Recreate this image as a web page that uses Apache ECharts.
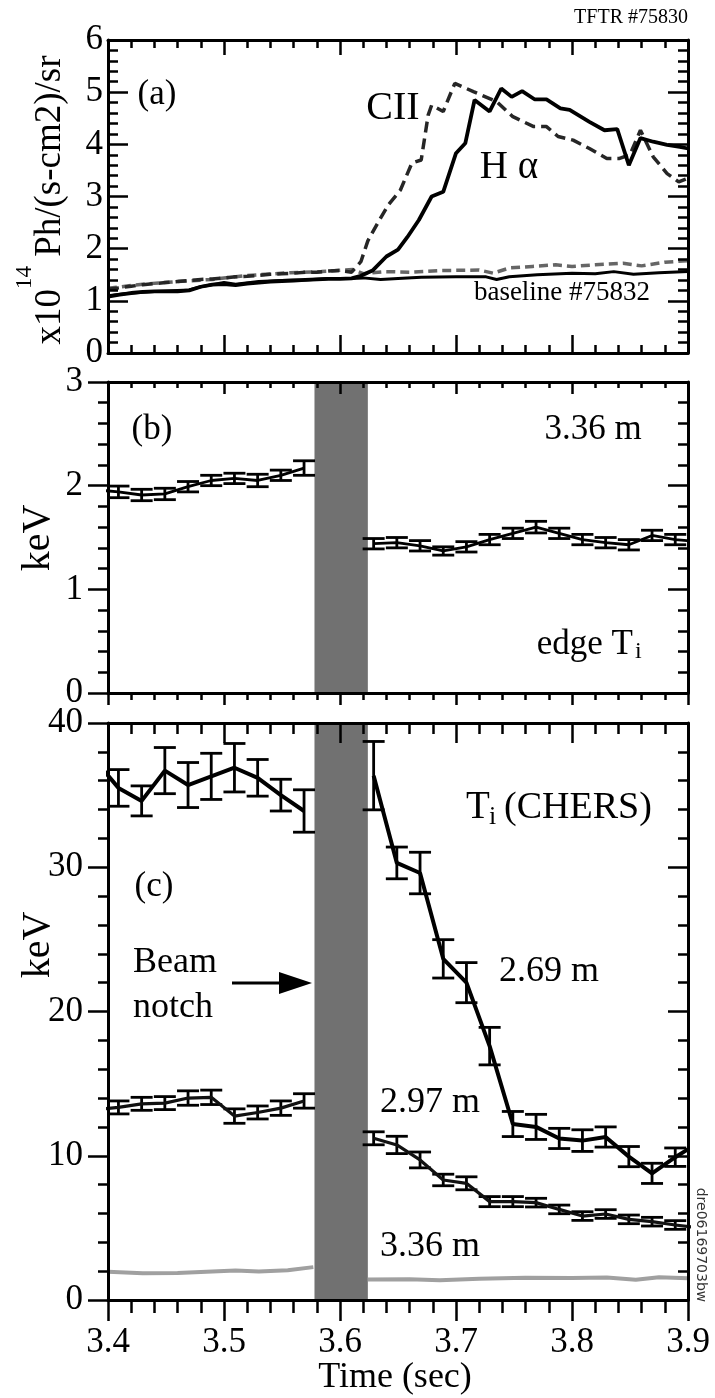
<!DOCTYPE html>
<html>
<head>
<meta charset="utf-8">
<title>TFTR #75830 – beam notch</title>
<script src="https://cdn.jsdelivr.net/npm/echarts@6/dist/echarts.min.js"></script>
<style>
  html, body { margin: 0; padding: 0; background: #fff; }
  #chart { width: 715px; height: 1398px; }
</style>
</head>
<body>
<div id="chart"></div>
<script>
// ---------------- data ----------------
// (a) line emission, x10^14 Ph/(s-cm2)/sr
const haTime = [3.400,3.410,3.420,3.430,3.440,3.450,3.460,3.470,3.480,3.490,3.500,3.510,3.520,3.530,3.540,3.550,3.560,3.570,3.580,3.590,3.600,3.610,3.618,3.628,3.640,3.650,3.658,3.668,3.679,3.689,3.700,3.708,3.716,3.729,3.739,3.748,3.757,3.768,3.778,3.790,3.798,3.815,3.828,3.839,3.849,3.859,3.870,3.882,3.893,3.900];
const haVal  = [1.08,1.12,1.15,1.17,1.18,1.18,1.18,1.20,1.27,1.31,1.32,1.30,1.33,1.35,1.37,1.38,1.39,1.40,1.41,1.42,1.42,1.43,1.48,1.58,1.85,1.98,2.22,2.55,3.00,3.09,3.83,4.02,4.85,4.63,5.07,4.91,5.02,4.86,4.86,4.69,4.66,4.43,4.27,4.29,3.60,4.12,4.05,3.99,3.95,3.92];

const ciiTime = [3.400,3.410,3.420,3.430,3.440,3.450,3.460,3.470,3.480,3.490,3.500,3.510,3.520,3.530,3.540,3.550,3.560,3.570,3.580,3.590,3.600,3.610,3.618,3.624,3.634,3.642,3.652,3.662,3.670,3.676,3.679,3.689,3.699,3.715,3.735,3.749,3.767,3.778,3.788,3.801,3.815,3.830,3.841,3.850,3.859,3.870,3.882,3.892,3.900];
const ciiVal  = [1.22,1.25,1.28,1.31,1.33,1.35,1.37,1.39,1.41,1.42,1.44,1.46,1.47,1.49,1.51,1.52,1.53,1.55,1.55,1.57,1.58,1.55,1.75,2.15,2.55,2.85,3.12,3.64,3.70,4.56,4.75,4.63,5.17,5.01,4.82,4.53,4.34,4.34,4.15,4.08,3.92,3.73,3.73,3.80,4.27,3.76,3.44,3.28,3.35];

// baseline shot #75832
const baseHaTime = [3.400,3.420,3.440,3.460,3.470,3.480,3.500,3.510,3.530,3.550,3.570,3.590,3.610,3.620,3.635,3.650,3.670,3.700,3.726,3.735,3.746,3.770,3.800,3.820,3.836,3.853,3.875,3.900];
const baseHaVal  = [1.10,1.15,1.18,1.20,1.21,1.27,1.35,1.32,1.37,1.39,1.40,1.43,1.43,1.44,1.41,1.43,1.45,1.46,1.46,1.41,1.46,1.50,1.53,1.52,1.56,1.51,1.54,1.56];
const baseCiiTime = [3.400,3.430,3.460,3.490,3.517,3.557,3.584,3.611,3.620,3.638,3.660,3.685,3.720,3.732,3.746,3.766,3.786,3.800,3.820,3.844,3.860,3.880,3.900];
const baseCiiVal  = [1.24,1.32,1.37,1.41,1.48,1.54,1.56,1.60,1.52,1.56,1.55,1.58,1.59,1.53,1.63,1.66,1.69,1.66,1.69,1.72,1.67,1.74,1.77];

// (b) edge Ti at 3.36 m, keV (null error = line vertex only)
const edgePreTime  = [3.389,3.409,3.429,3.449,3.469,3.489,3.509,3.529,3.549,3.569];
const edgePreVal   = [1.96,1.94,1.91,1.92,1.99,2.05,2.07,2.05,2.10,2.17];
const edgePreErr   = [null,0.056,0.055,0.055,0.05,0.05,0.05,0.06,0.05,0.07];
const edgePostTime = [3.629,3.649,3.669,3.689,3.709,3.729,3.749,3.769,3.789,3.809,3.829,3.849,3.869,3.889,3.909];
const edgePostVal  = [1.44,1.45,1.42,1.37,1.41,1.48,1.54,1.60,1.54,1.48,1.45,1.43,1.52,1.48,1.46];
const edgePostErr  = [0.05,0.05,0.05,0.04,0.05,0.05,0.05,0.056,0.05,0.05,0.05,0.05,0.05,0.05,null];

// (c) Ti (CHERS), keV
const r269PreTime  = [3.389,3.409,3.429,3.449,3.469,3.489,3.509,3.529,3.549,3.569];
const r269PreVal   = [37.4,35.5,34.6,36.7,35.7,36.3,36.9,36.2,35.0,33.9];
const r269PreErr   = [null,1.27,1.04,1.6,1.56,1.6,1.68,1.27,1.1,1.47];
const r269PostTime = [3.629,3.649,3.669,3.689,3.709,3.729,3.749,3.769,3.789,3.809,3.829,3.849,3.869,3.889,3.909];
const r269PostVal  = [36.35,30.3,29.6,23.65,22.0,17.6,12.2,12.0,11.2,11.05,11.3,9.94,8.78,9.9,10.9];
const r269PostErr  = [2.37,1.1,1.44,1.33,1.39,1.3,0.87,0.87,0.7,0.75,0.7,0.7,0.7,0.64,null];

const r297PreTime  = [3.389,3.409,3.429,3.449,3.469,3.489,3.509,3.529,3.549,3.569];
const r297PreVal   = [13.2,13.35,13.6,13.65,14.0,14.05,12.75,13.0,13.3,13.8];
const r297PreErr   = [null,0.45,0.45,0.45,0.5,0.5,0.5,0.45,0.5,0.5];
const r297PostTime = [3.629,3.649,3.669,3.689,3.709,3.729,3.749,3.769,3.789,3.809,3.829,3.849,3.869,3.889,3.909];
const r297PostVal  = [11.21,10.75,9.71,8.32,8.09,6.82,6.82,6.75,6.28,5.82,5.96,5.59,5.43,5.20,5.0];
const r297PostErr  = [0.45,0.6,0.55,0.4,0.45,0.35,0.35,0.3,0.3,0.3,0.3,0.3,0.3,0.3,null];

const r336PreTime  = [3.400,3.430,3.460,3.490,3.510,3.530,3.555,3.577];
const r336PreVal   = [1.95,1.85,1.88,1.98,2.04,1.97,2.06,2.28];
const r336PostTime = [3.624,3.660,3.686,3.720,3.760,3.800,3.830,3.855,3.875,3.900];
const r336PostVal  = [1.42,1.44,1.37,1.48,1.55,1.52,1.56,1.40,1.58,1.50];

// beam notch interval (sec)
const notch = [3.578, 3.624];

// axis ranges and ticks
const timeRange = [3.4, 3.9], timeStep = 0.1;
const yRangeA = [0, 6],  yStepA = 1;
const yRangeB = [0, 3],  yStepB = 1;
const yRangeC = [0, 40], yStepC = 10;

// ---------------- helpers ----------------
const SERIF = '"Liberation Serif", "Times New Roman", serif';
const SANS = '"DejaVu Sans", "Liberation Sans", sans-serif';

const pairs = (t, v) => t.map((x, i) => [x, v[i]]);
const errTriples = (t, v, e) => t.map((x, i) => [x, v[i], e[i]]).filter(d => d[2] != null);

const tickStyle = { color: '#000', width: 2.5 };

function xAxesFor(gi, o) {
  const base = {
    type: 'value', gridIndex: gi, min: timeRange[0], max: timeRange[1], interval: timeStep, z: 10,
    splitLine: { show: false },
    axisLine: { onZero: false, lineStyle: { color: '#000', width: 3 } }
  };
  return [
    Object.assign({}, base, {
      position: 'bottom',
      axisTick: { inside: o.bIn, length: o.bMaj, lineStyle: tickStyle },
      minorTick: { show: true, splitNumber: 5, length: o.bMin, lineStyle: tickStyle },
      axisLabel: o.labels ? {
        show: true, margin: 25, color: '#000', fontFamily: SERIF, fontSize: 35,
        formatter: v => v.toFixed(1)
      } : { show: false }
    }),
    Object.assign({}, base, {
      position: 'top',
      axisTick: { inside: true, length: o.tMaj, lineStyle: tickStyle },
      minorTick: { show: true, splitNumber: 5, length: o.tMin, lineStyle: tickStyle },
      axisLabel: { show: false }
    })
  ];
}

function yAxesFor(gi, range, step, o) {
  const base = {
    type: 'value', gridIndex: gi, min: range[0], max: range[1], interval: step, z: 10,
    splitLine: { show: false },
    axisLine: { onZero: false, lineStyle: { color: '#000', width: 3 } }
  };
  return [
    Object.assign({}, base, {
      position: 'left',
      axisTick: { inside: o.lIn, length: 20, lineStyle: tickStyle },
      minorTick: { show: true, splitNumber: 5, length: 10, lineStyle: tickStyle },
      axisLabel: { show: true, margin: o.margin, color: '#000', fontFamily: SERIF, fontSize: 35 }
    }),
    Object.assign({}, base, {
      position: 'right',
      axisTick: { inside: true, length: 20, lineStyle: tickStyle },
      minorTick: { show: true, splitNumber: 5, length: 10, lineStyle: tickStyle },
      axisLabel: { show: false }
    })
  ];
}

function lineSeries(gi, data, style, extra) {
  return Object.assign({
    type: 'line', xAxisIndex: gi * 2, yAxisIndex: gi * 2, data: data,
    showSymbol: false, symbol: 'none', clip: true, z: 3,
    lineStyle: style
  }, extra || {});
}

function errSeries(gi, data, capHalf, width) {
  return {
    type: 'custom', xAxisIndex: gi * 2, yAxisIndex: gi * 2, data: data, clip: true, z: 3,
    encode: { x: 0, y: 1 },
    renderItem: function (params, api) {
      const t = api.value(0), v = api.value(1), e = api.value(2);
      const hi = api.coord([t, v + e]);
      const lo = api.coord([t, v - e]);
      const st = { stroke: '#000', lineWidth: width };
      return {
        type: 'group',
        children: [
          { type: 'line', shape: { x1: hi[0], y1: hi[1], x2: lo[0], y2: lo[1] }, style: st },
          { type: 'line', shape: { x1: hi[0] - capHalf, y1: hi[1], x2: hi[0] + capHalf, y2: hi[1] }, style: st },
          { type: 'line', shape: { x1: lo[0] - capHalf, y1: lo[1], x2: lo[0] + capHalf, y2: lo[1] }, style: st }
        ]
      };
    }
  };
}

const notchArea = {
  silent: true,
  itemStyle: { color: '#717171' },
  data: [[{ xAxis: notch[0] }, { xAxis: notch[1] }]]
};

function label(x, y, text, size, extra) {
  const e = extra || {};
  return {
    type: 'text', x: x, y: y, rotation: e.rotation || 0, z: 100,
    style: {
      text: text, fill: e.fill || '#000',
      fontFamily: e.family || SERIF, fontSize: size,
      textAlign: e.align || 'center', align: e.align || 'center',
      textVerticalAlign: 'middle', verticalAlign: 'middle',
      rich: e.rich
    }
  };
}

// ---------------- chart ----------------
const chart = echarts.init(document.getElementById('chart'), null, { renderer: 'canvas' });

const option = {
  animation: false,
  backgroundColor: '#fff',
  grid: [
    { left: 108, right: 27, top: 40, height: 313 },
    { left: 108, right: 27, top: 382, height: 311 },
    { left: 108, right: 27, top: 723, height: 577 }
  ],
  xAxis: [].concat(
    xAxesFor(0, { bIn: true,  bMaj: 18, bMin: 8,  tMaj: 15, tMin: 8,  labels: false }),
    xAxesFor(1, { bIn: false, bMaj: 12, bMin: 7,  tMaj: 12, tMin: 6,  labels: false }),
    xAxesFor(2, { bIn: false, bMaj: 21, bMin: 13, tMaj: 20, tMin: 11, labels: true })
  ),
  yAxis: [].concat(
    yAxesFor(0, yRangeA, yStepA, { lIn: true,  margin: 5 }),
    yAxesFor(1, yRangeB, yStepB, { lIn: false, margin: 25 }),
    yAxesFor(2, yRangeC, yStepC, { lIn: false, margin: 25 })
  ),
  series: [
    // (a)
    lineSeries(0, pairs(baseCiiTime, baseCiiVal), { color: '#666', width: 3.5, type: [9, 5] }),
    lineSeries(0, pairs(baseHaTime, baseHaVal),   { color: '#000', width: 3 }),
    lineSeries(0, pairs(ciiTime, ciiVal),         { color: '#262626', width: 3.5, type: [11, 6] }),
    lineSeries(0, pairs(haTime, haVal),           { color: '#000', width: 3.8 }),

    // (b)
    lineSeries(1, pairs(edgePreTime, edgePreVal), { color: '#000', width: 2.8 }, { z: 1, markArea: notchArea }),
    lineSeries(1, pairs(edgePostTime, edgePostVal), { color: '#000', width: 2.8 }),
    errSeries(1, errTriples(edgePreTime, edgePreVal, edgePreErr), 11, 2.8),
    errSeries(1, errTriples(edgePostTime, edgePostVal, edgePostErr), 11, 2.8),

    // (c)
    lineSeries(2, pairs(r336PreTime, r336PreVal), { color: '#a0a0a0', width: 4 }, { z: 1, markArea: notchArea }),
    lineSeries(2, pairs(r336PostTime, r336PostVal), { color: '#a0a0a0', width: 4 }),
    lineSeries(2, pairs(r297PreTime, r297PreVal), { color: '#111', width: 3.2 }),
    lineSeries(2, pairs(r297PostTime, r297PostVal), { color: '#111', width: 3.2 }),
    errSeries(2, errTriples(r297PreTime, r297PreVal, r297PreErr), 11, 2.8),
    errSeries(2, errTriples(r297PostTime, r297PostVal, r297PostErr), 11, 2.8),
    lineSeries(2, pairs(r269PreTime, r269PreVal), { color: '#000', width: 4 }),
    lineSeries(2, pairs(r269PostTime, r269PostVal), { color: '#000', width: 4 }),
    errSeries(2, errTriples(r269PreTime, r269PreVal, r269PreErr), 11, 2.8),
    errSeries(2, errTriples(r269PostTime, r269PostVal, r269PostErr), 11, 2.8)
  ],
  graphic: [
    label(688, 18, 'TFTR #75830', 20, { align: 'right' }),

    // (a)
    label(41, 200, '{m|x10}{u|14}{m| Ph/(s-cm2)/sr}', 37, {
      rotation: Math.PI / 2,
      rich: {
        m: { fontFamily: SERIF, fontSize: 37, lineHeight: 56, verticalAlign: 'bottom', fill: '#000' },
        u: { fontFamily: SERIF, fontSize: 23, lineHeight: 22, verticalAlign: 'top', fill: '#000' }
      }
    }),
    label(157, 95, '(a)', 35),
    label(393, 108, 'CII', 40),
    label(509, 168, 'H α', 39),
    label(562, 293, 'baseline #75832', 27),

    // (b)
    label(38, 538, 'keV', 40, { rotation: Math.PI / 2 }),
    label(152, 430, '(b)', 35),
    label(593, 430, '3.36 m', 35),
    label(633, 645, 'edge T', 35, { align: 'right' }),
    label(635, 652, 'i', 24, { align: 'left' }),

    // (c)
    label(38, 945, 'keV', 40, { rotation: Math.PI / 2 }),
    label(466, 808, 'T', 39, { align: 'left' }),
    label(489, 817, 'i', 26, { align: 'left' }),
    label(504, 808, '(CHERS)', 38, { align: 'left' }),
    label(154, 887, '(c)', 35),
    label(133, 963, 'Beam', 36, { align: 'left' }),
    label(133, 1008, 'notch', 36, { align: 'left' }),
    {
      type: 'line', z: 100,
      shape: { x1: 232, y1: 983, x2: 290, y2: 983 },
      style: { stroke: '#000', lineWidth: 3 }
    },
    {
      type: 'polygon', z: 100,
      shape: { points: [[279, 972], [312, 983], [279, 994]] },
      style: { fill: '#000' }
    },
    label(549, 972, '2.69 m', 36),
    label(430, 1103, '2.97 m', 36),
    label(430, 1247, '3.36 m', 36),
    label(395, 1378, 'Time (sec)', 36),
    label(701, 1245, 'dre06169703bw', 14, { rotation: -Math.PI / 2, family: SANS, fill: '#333' })
  ]
};

chart.setOption(option);
</script>
</body>
</html>
